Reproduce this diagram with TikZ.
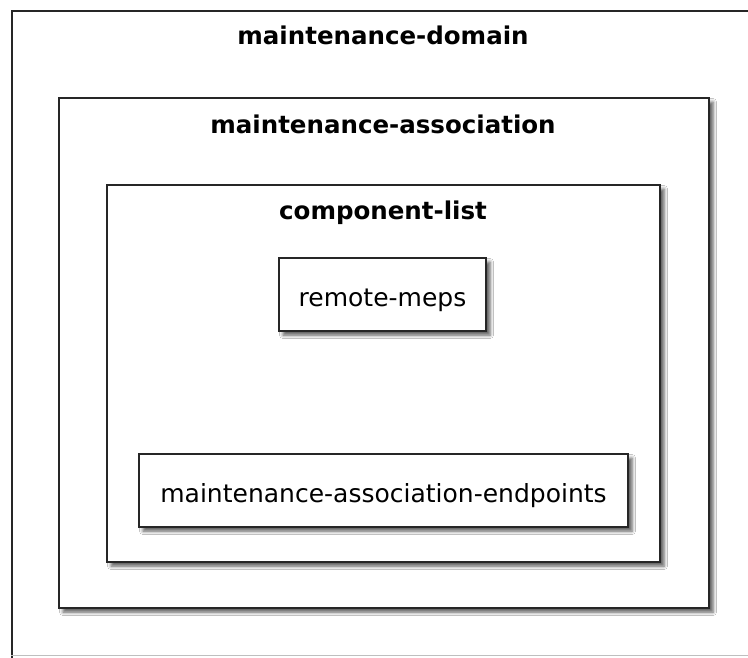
\documentclass[tikz,border=0pt]{standalone}
\usepackage{fontspec}
\setmainfont{DejaVu Sans}
\usetikzlibrary{shadows.blur}

\begin{document}
\begin{tikzpicture}[
  x=1pt, y=-1pt,
  container/.style={
    rectangle,
    draw=black!85,
    line width=2pt,
    fill=white,
    inner sep=0pt
  },
  shadowed/.style={
    container,
    blur shadow={shadow xshift=4pt, shadow yshift=-4pt,
      shadow blur radius=3.5pt, shadow opacity=65}
  },
  entity/.style={
    shadowed,
    minimum height=73pt,
    text height=24.5pt, text depth=0pt,
    font=\fontsize{25}{30}\selectfont
  },
  caption/.style={
    anchor=base,
    inner sep=0pt,
    font=\fontsize{24.5}{29}\selectfont\bfseries
  }
]
  \useasboundingbox (0,0) rectangle (748,657);
  \clip (0,0) rectangle (748,657);

  % frame of the domain runs past the picture edge
  \node[container, anchor=north west, minimum width=780pt, minimum height=700pt] (domain) at (11,10) {};
  \draw[black!25, line width=1pt] (11,655.5) -- (748,655.5);

  \node[shadowed, minimum width=650pt, minimum height=510pt] (assoc) at (384,353) {};
  \node[shadowed, minimum width=553pt, minimum height=377pt] (complist) at (383.5,373.5) {};

  \node[entity, minimum width=207pt] (remotemeps) at (382.5,294.5) {remote-meps};
  \node[entity, minimum width=489pt] (endpoints) at (383.5,490.5) {maintenance-association-endpoints};

  \node[caption] (domaintitle) at (383,44) {maintenance-domain};
  \node[caption] (assoctitle) at (383,133) {maintenance-association};
  \node[caption] (complisttitle) at (383,219) {component-list};
\end{tikzpicture}
\end{document}
